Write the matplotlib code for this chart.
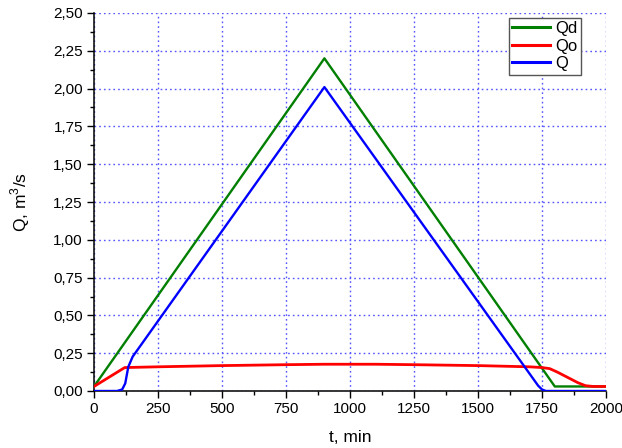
import matplotlib
matplotlib.use("Agg")
import matplotlib.pyplot as plt
from matplotlib.ticker import MultipleLocator, FuncFormatter

# =========================
# Data
# =========================
t_qd = [0, 900, 1800, 2000]
qd = [0.03, 2.20, 0.03, 0.03]

t_qo = [0, 120, 250, 500, 750, 900, 1100, 1250, 1500, 1700, 1750, 1780,
        1810, 1850, 1890, 1920, 1950, 2000]
qo = [0.03, 0.155, 0.160, 0.168, 0.174, 0.177, 0.177, 0.174, 0.168, 0.160,
      0.155, 0.148, 0.125, 0.090, 0.055, 0.035, 0.030, 0.030]

t_q = [0, 90, 110, 122, 134, 151, 900, 1735, 1750, 1765, 2000]
q = [0.0, 0.0, 0.01, 0.05, 0.16, 0.227, 2.01, 0.035, 0.01, 0.0, 0.0]

x_label = "t, min"
y_label = "Q, m$^3$/s"


# =========================
# Plot
# =========================
plt.rcParams["font.family"] = ["Liberation Sans", "DejaVu Sans"]
plt.rcParams["mathtext.fontset"] = "custom"
plt.rcParams["mathtext.rm"] = "Liberation Sans"

fig = plt.figure(figsize=(6.22, 4.48), dpi=100)
ax = fig.add_axes([94 / 622, 1 - 391 / 448, 512 / 622, 378 / 448])

ax.plot(t_qd, qd, color="#007f00", lw=1.7, label="Qd", zorder=3)
ax.plot(t_qo, qo, color="#ff0000", lw=2.0, label="Qo", zorder=4)
ax.plot(t_q, q, color="#0000ff", lw=1.7, label="Q", zorder=5)

ax.set_xlim(0, 2000)
ax.set_ylim(0, 2.5)
ax.xaxis.set_major_locator(MultipleLocator(250))
ax.xaxis.set_minor_locator(MultipleLocator(125))
ax.yaxis.set_major_locator(MultipleLocator(0.25))
ax.yaxis.set_minor_locator(MultipleLocator(0.125))
ax.yaxis.set_major_formatter(FuncFormatter(lambda v, p: f"{v:.2f}".replace(".", ",")))

ax.tick_params(which="major", direction="out", length=5, width=1, labelsize=11, pad=3)
ax.tick_params(which="minor", direction="out", length=3, width=1)

for side in ("top", "right"):
    ax.spines[side].set_visible(False)
for side in ("left", "bottom"):
    ax.spines[side].set_linewidth(1.1)

ax.grid(True, which="major", color="#5555ff", linestyle=(0, (1.2, 2.2)), lw=1.0)

ax.set_xlabel(x_label, fontsize=12.5, labelpad=10)
ax.set_ylabel(y_label, fontsize=12.5, labelpad=15)

leg = ax.legend(loc="upper right", bbox_to_anchor=(0.951, 0.987), fontsize=12,
                frameon=True, fancybox=False, handlelength=2.3, handletextpad=0.3,
                borderpad=0.2, labelspacing=0.15, borderaxespad=0)
leg.get_frame().set_edgecolor("#555555")
leg.get_frame().set_linewidth(1.0)
leg.get_frame().set_alpha(1)
for line in leg.get_lines():
    line.set_linewidth(2.2)

fig.savefig("out.png", dpi=100)
